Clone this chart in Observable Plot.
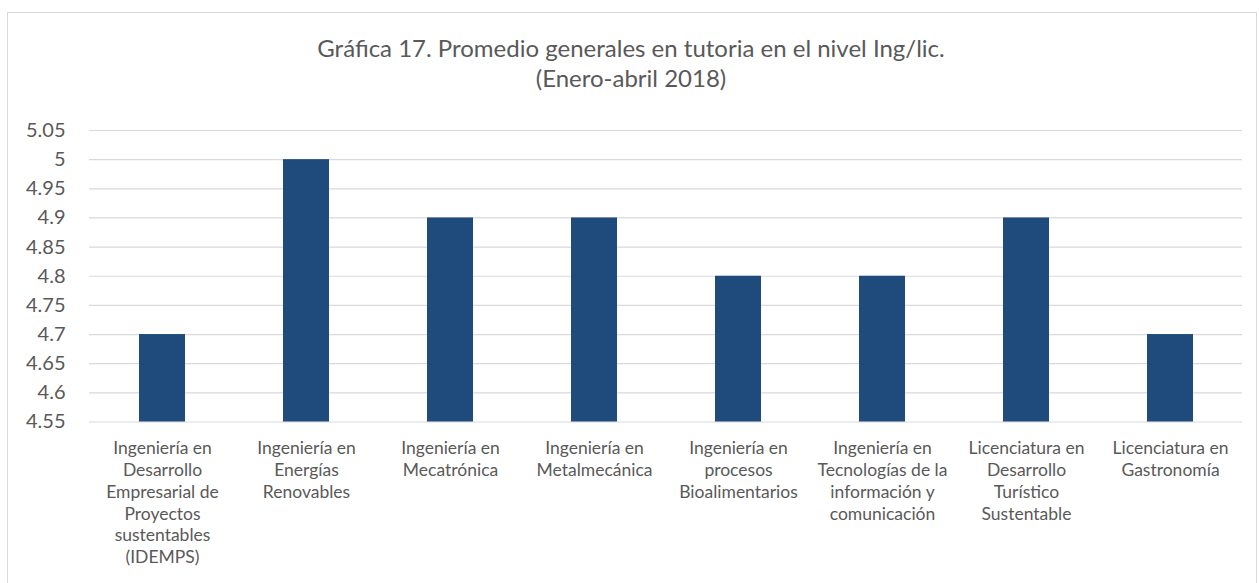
<!DOCTYPE html>
<html>
<head>
<meta charset="utf-8">
<script src="https://cdn.jsdelivr.net/npm/d3@7"></script>
<script src="https://cdn.jsdelivr.net/npm/@observablehq/plot@0.6"></script>
<style>
  html, body { margin: 0; padding: 0; background: #fff; overflow: hidden; width: 1259px; height: 583px; }
  #wrap { position: relative; width: 1259px; height: 583px; }
  #frame { position: absolute; left: 7px; top: 12px; width: 1250px; height: 600px; border: 1px solid #d9d9d9; box-sizing: border-box; }
  #title { position: absolute; left: 0; top: 33px; width: 1262px; text-align: center; font-family: Lato, sans-serif; font-size: 24px; line-height: 30px; color: #595959; }
  #chart { position: absolute; left: 0; top: 0; }
</style>
</head>
<body>
<div id="wrap">
  <div id="frame"></div>
  <div id="title">Gráfica 17. Promedio generales en tutoria en el nivel Ing/lic.<br>(Enero-abril 2018)</div>
  <div id="chart"></div>
</div>
<script>
const categories = [
  "Ingeniería en Desarrollo Empresarial de Proyectos sustentables (IDEMPS)",
  "Ingeniería en Energías Renovables",
  "Ingeniería en Mecatrónica",
  "Ingeniería en Metalmecánica",
  "Ingeniería en procesos Bioalimentarios",
  "Ingeniería en Tecnologías de la información y comunicación",
  "Licenciatura en Desarrollo Turístico Sustentable",
  "Licenciatura en Gastronomía"
];
const tickLabels = [
  "Ingeniería en\nDesarrollo\nEmpresarial de\nProyectos\nsustentables\n(IDEMPS)",
  "Ingeniería en\nEnergías\nRenovables",
  "Ingeniería en\nMecatrónica",
  "Ingeniería en\nMetalmecánica",
  "Ingeniería en\nprocesos\nBioalimentarios",
  "Ingeniería en\nTecnologías de la\ninformación y\ncomunicación",
  "Licenciatura en\nDesarrollo\nTurístico\nSustentable",
  "Licenciatura en\nGastronomía"
];
const values = [4.7, 5.0, 4.9, 4.9, 4.8, 4.8, 4.9, 4.7];
const yTicks = [4.55, 4.6, 4.65, 4.7, 4.75, 4.8, 4.85, 4.9, 4.95, 5.0, 5.05];
const baseline = 4.55;

const data = categories.map((c, i) => ({ cat: c, label: tickLabels[i], value: values[i] }));
const labelOf = new Map(data.map(d => [d.cat, d.label]));

const plot = Plot.plot({
  width: 1259,
  height: 583,
  marginTop: 130,
  marginBottom: 161.5,
  marginLeft: 89,
  marginRight: 17,
  style: { fontFamily: "Lato, sans-serif", color: "#595959", background: "transparent" },
  x: { domain: categories, paddingInner: 0.683, paddingOuter: 0.3415, label: null },
  y: { domain: [4.55, 5.05], label: null },
  marks: [
    Plot.ruleY(yTicks, { stroke: "#d9d9d9", strokeWidth: 1.2 }),
    Plot.barY(data, { x: "cat", y1: () => baseline, y2: "value", fill: "#1f4a7c" }),
    Plot.axisY({ ticks: yTicks, tickSize: 0, tickPadding: 24, fontSize: 20, tickFormat: d => String(+d.toFixed(2)), fill: "#595959", label: null }),
    Plot.axisX({ tickSize: 0, tickPadding: 17, fontSize: 17.5, lineHeight: 1.24, tickFormat: d => labelOf.get(d), fill: "#595959", label: null })
  ]
});
document.getElementById("chart").appendChild(plot);
</script>
</body>
</html>
